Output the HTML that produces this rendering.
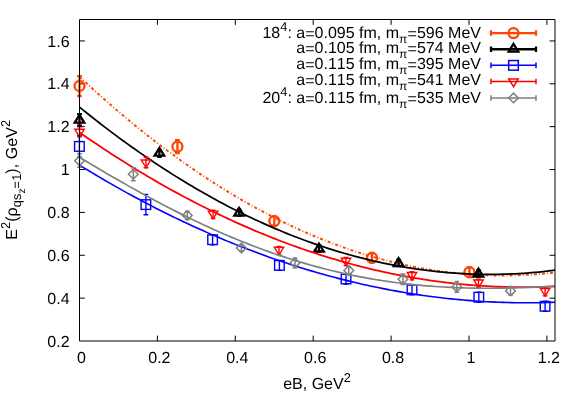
<!DOCTYPE html>
<html><head><meta charset="utf-8"><title>plot</title>
<style>html,body{margin:0;padding:0;background:#fff}svg{display:block;will-change:transform}text{font-kerning:none;text-rendering:geometricPrecision}</style>
</head><body>
<svg width="584" height="409" viewBox="0 0 584 409" font-family="'Liberation Sans', Arial, Helvetica, sans-serif" font-size="16" fill="#000">
<rect width="584" height="409" fill="#fff"/>
<defs><clipPath id="c"><rect x="79.5" y="19.5" width="475.5" height="321.5"/></clipPath></defs>
<path d="M157.40 341.0v-5.4M157.40 19.5v5.4M235.30 341.0v-5.4M235.30 19.5v5.4M313.20 341.0v-5.4M313.20 19.5v5.4M391.10 341.0v-5.4M391.10 19.5v5.4M469.00 341.0v-5.4M469.00 19.5v5.4M546.90 341.0v-5.4M546.90 19.5v5.4M79.5 298.13h5.4M555.0 298.13h-5.4M79.5 255.27h5.4M555.0 255.27h-5.4M79.5 212.40h5.4M555.0 212.40h-5.4M79.5 169.54h5.4M555.0 169.54h-5.4M79.5 126.67h5.4M555.0 126.67h-5.4M79.5 83.80h5.4M555.0 83.80h-5.4M79.5 40.94h5.4M555.0 40.94h-5.4" stroke="#000" stroke-width="1" fill="none"/>
<path d="M79.50 76.20V96.20M77.10 76.20h4.80M77.10 96.20h4.80" stroke="#ff4500" stroke-width="2.3" fill="none"/>
<circle cx="79.50" cy="86.00" r="5.00" stroke="#ff4500" stroke-width="2.3" fill="none"/>
<path d="M177.40 140.20V153.20M175.00 140.20h4.80M175.00 153.20h4.80" stroke="#ff4500" stroke-width="2.3" fill="none"/>
<circle cx="177.40" cy="146.70" r="5.00" stroke="#ff4500" stroke-width="2.3" fill="none"/>
<path d="M274.30 216.30V225.90M271.90 216.30h4.80M271.90 225.90h4.80" stroke="#ff4500" stroke-width="2.3" fill="none"/>
<circle cx="274.30" cy="221.10" r="5.00" stroke="#ff4500" stroke-width="2.3" fill="none"/>
<path d="M372.00 253.00V262.60M369.60 253.00h4.80M369.60 262.60h4.80" stroke="#ff4500" stroke-width="2.3" fill="none"/>
<circle cx="372.00" cy="257.80" r="5.00" stroke="#ff4500" stroke-width="2.3" fill="none"/>
<path d="M469.40 267.40V277.00M467.00 267.40h4.80M467.00 277.00h4.80" stroke="#ff4500" stroke-width="2.3" fill="none"/>
<circle cx="469.40" cy="272.20" r="5.00" stroke="#ff4500" stroke-width="2.3" fill="none"/>
<path d="M79.50 76.69 L83.50 80.43 L87.49 84.13 L91.49 87.79 L95.48 91.42 L99.48 95.02 L103.47 98.58 L107.47 102.10 L111.47 105.59 L115.46 109.04 L119.46 112.46 L123.45 115.84 L127.45 119.19 L131.45 122.50 L135.44 125.78 L139.44 129.02 L143.43 132.22 L147.43 135.39 L151.42 138.53 L155.42 141.63 L159.42 144.69 L163.41 147.72 L167.41 150.71 L171.40 153.67 L175.40 156.59 L179.39 159.47 L183.39 162.32 L187.39 165.14 L191.38 167.92 L195.38 170.66 L199.37 173.37 L203.37 176.04 L207.37 178.68 L211.36 181.29 L215.36 183.85 L219.35 186.38 L223.35 188.88 L227.34 191.34 L231.34 193.77 L235.34 196.16 L239.33 198.51 L243.33 200.83 L247.32 203.11 L251.32 205.36 L255.32 207.57 L259.31 209.75 L263.31 211.89 L267.30 214.00 L271.30 216.07 L275.29 218.10 L279.29 220.10 L283.29 222.07 L287.28 224.00 L291.28 225.89 L295.27 227.75 L299.27 229.57 L303.26 231.36 L307.26 233.11 L311.26 234.82 L315.25 236.50 L319.25 238.15 L323.24 239.76 L327.24 241.33 L331.24 242.87 L335.23 244.38 L339.23 245.84 L343.22 247.28 L347.22 248.67 L351.21 250.04 L355.21 251.36 L359.21 252.65 L363.20 253.91 L367.20 255.13 L371.19 256.31 L375.19 257.46 L379.18 258.58 L383.18 259.65 L387.18 260.70 L391.17 261.70 L395.17 262.68 L399.16 263.61 L403.16 264.51 L407.16 265.38 L411.15 266.21 L415.15 267.00 L419.14 267.76 L423.14 268.49 L427.13 269.17 L431.13 269.83 L435.13 270.44 L439.12 271.03 L443.12 271.57 L447.11 272.08 L451.11 272.56 L455.11 273.00 L459.10 273.40 L463.10 273.77 L467.09 274.11 L471.09 274.40 L475.08 274.67 L479.08 274.89 L483.08 275.09 L487.07 275.24 L491.07 275.36 L495.06 275.45 L499.06 275.50 L503.05 275.51 L507.05 275.49 L511.05 275.44 L515.04 275.35 L519.04 275.22 L523.03 275.06 L527.03 274.86 L531.03 274.62 L535.02 274.36 L539.02 274.05 L543.01 273.71 L547.01 273.34 L551.00 272.93 L555.00 272.48" stroke="#ff4500" stroke-width="1.9" fill="none" stroke-dasharray="3.0 2.1 0.9 2.1" clip-path="url(#c)"/>
<path d="M79.50 114.20V126.20M77.10 114.20h4.80M77.10 126.20h4.80" stroke="#000000" stroke-width="2.3" fill="none"/>
<path d="M79.50 114.82l-4.80 7.78h9.60z" stroke="#000000" stroke-width="2.3" fill="none"/>
<path d="M159.40 150.20V156.90M157.00 150.20h4.80M157.00 156.90h4.80" stroke="#000000" stroke-width="2.3" fill="none"/>
<path d="M159.40 147.82l-4.80 7.78h9.60z" stroke="#000000" stroke-width="2.3" fill="none"/>
<path d="M239.10 209.60V215.70M236.70 209.60h4.80M236.70 215.70h4.80" stroke="#000000" stroke-width="2.3" fill="none"/>
<path d="M239.10 207.82l-4.80 7.78h9.60z" stroke="#000000" stroke-width="2.3" fill="none"/>
<path d="M319.00 245.50V251.60M316.60 245.50h4.80M316.60 251.60h4.80" stroke="#000000" stroke-width="2.3" fill="none"/>
<path d="M319.00 243.72l-4.80 7.78h9.60z" stroke="#000000" stroke-width="2.3" fill="none"/>
<path d="M398.60 260.00V266.10M396.20 260.00h4.80M396.20 266.10h4.80" stroke="#000000" stroke-width="2.3" fill="none"/>
<path d="M398.60 258.22l-4.80 7.78h9.60z" stroke="#000000" stroke-width="2.3" fill="none"/>
<path d="M478.50 270.50V276.60M476.10 270.50h4.80M476.10 276.60h4.80" stroke="#000000" stroke-width="2.3" fill="none"/>
<path d="M478.50 268.72l-4.80 7.78h9.60z" stroke="#000000" stroke-width="2.3" fill="none"/>
<path d="M79.50 107.10 L83.50 110.34 L87.49 113.55 L91.49 116.72 L95.48 119.87 L99.48 122.98 L103.47 126.07 L107.47 129.12 L111.47 132.14 L115.46 135.12 L119.46 138.08 L123.45 141.00 L127.45 143.90 L131.45 146.76 L135.44 149.58 L139.44 152.38 L143.43 155.15 L147.43 157.88 L151.42 160.58 L155.42 163.25 L159.42 165.89 L163.41 168.50 L167.41 171.07 L171.40 173.62 L175.40 176.13 L179.39 178.61 L183.39 181.06 L187.39 183.48 L191.38 185.86 L195.38 188.21 L199.37 190.54 L203.37 192.83 L207.37 195.08 L211.36 197.31 L215.36 199.51 L219.35 201.67 L223.35 203.80 L227.34 205.90 L231.34 207.97 L235.34 210.01 L239.33 212.01 L243.33 213.98 L247.32 215.92 L251.32 217.83 L255.32 219.71 L259.31 221.56 L263.31 223.37 L267.30 225.16 L271.30 226.91 L275.29 228.63 L279.29 230.31 L283.29 231.97 L287.28 233.59 L291.28 235.19 L295.27 236.75 L299.27 238.28 L303.26 239.77 L307.26 241.24 L311.26 242.67 L315.25 244.08 L319.25 245.45 L323.24 246.79 L327.24 248.09 L331.24 249.37 L335.23 250.61 L339.23 251.83 L343.22 253.01 L347.22 254.15 L351.21 255.27 L355.21 256.36 L359.21 257.41 L363.20 258.43 L367.20 259.42 L371.19 260.38 L375.19 261.31 L379.18 262.20 L383.18 263.07 L387.18 263.90 L391.17 264.70 L395.17 265.47 L399.16 266.21 L403.16 266.91 L407.16 267.58 L411.15 268.23 L415.15 268.84 L419.14 269.41 L423.14 269.96 L427.13 270.47 L431.13 270.96 L435.13 271.41 L439.12 271.83 L443.12 272.22 L447.11 272.57 L451.11 272.90 L455.11 273.19 L459.10 273.45 L463.10 273.68 L467.09 273.88 L471.09 274.05 L475.08 274.18 L479.08 274.28 L483.08 274.35 L487.07 274.39 L491.07 274.40 L495.06 274.38 L499.06 274.32 L503.05 274.23 L507.05 274.11 L511.05 273.96 L515.04 273.78 L519.04 273.57 L523.03 273.32 L527.03 273.04 L531.03 272.73 L535.02 272.39 L539.02 272.02 L543.01 271.62 L547.01 271.18 L551.00 270.71 L555.00 270.21" stroke="#000000" stroke-width="1.75" fill="none" clip-path="url(#c)"/>
<path d="M79.40 135.60V157.20M77.00 135.60h4.80M77.00 157.20h4.80" stroke="#0000ff" stroke-width="1.4" fill="none"/>
<rect x="74.60" y="141.60" width="9.60" height="9.60" stroke="#0000ff" stroke-width="1.4" fill="none"/>
<path d="M145.90 194.40V214.80M143.50 194.40h4.80M143.50 214.80h4.80" stroke="#0000ff" stroke-width="1.4" fill="none"/>
<rect x="141.10" y="199.80" width="9.60" height="9.60" stroke="#0000ff" stroke-width="1.4" fill="none"/>
<path d="M212.60 234.70V244.70M210.20 234.70h4.80M210.20 244.70h4.80" stroke="#0000ff" stroke-width="1.4" fill="none"/>
<rect x="207.80" y="234.90" width="9.60" height="9.60" stroke="#0000ff" stroke-width="1.4" fill="none"/>
<path d="M279.40 260.40V270.40M277.00 260.40h4.80M277.00 270.40h4.80" stroke="#0000ff" stroke-width="1.4" fill="none"/>
<rect x="274.60" y="260.60" width="9.60" height="9.60" stroke="#0000ff" stroke-width="1.4" fill="none"/>
<path d="M346.00 274.00V284.00M343.60 274.00h4.80M343.60 284.00h4.80" stroke="#0000ff" stroke-width="1.4" fill="none"/>
<rect x="341.20" y="274.20" width="9.60" height="9.60" stroke="#0000ff" stroke-width="1.4" fill="none"/>
<path d="M412.00 284.80V294.80M409.60 284.80h4.80M409.60 294.80h4.80" stroke="#0000ff" stroke-width="1.4" fill="none"/>
<rect x="407.20" y="285.00" width="9.60" height="9.60" stroke="#0000ff" stroke-width="1.4" fill="none"/>
<path d="M478.80 292.20V302.20M476.40 292.20h4.80M476.40 302.20h4.80" stroke="#0000ff" stroke-width="1.4" fill="none"/>
<rect x="474.00" y="292.40" width="9.60" height="9.60" stroke="#0000ff" stroke-width="1.4" fill="none"/>
<path d="M545.10 301.30V311.30M542.70 301.30h4.80M542.70 311.30h4.80" stroke="#0000ff" stroke-width="1.4" fill="none"/>
<rect x="540.30" y="301.50" width="9.60" height="9.60" stroke="#0000ff" stroke-width="1.4" fill="none"/>
<path d="M79.50 165.14 L83.50 167.59 L87.49 170.02 L91.49 172.42 L95.48 174.80 L99.48 177.17 L103.47 179.51 L107.47 181.82 L111.47 184.12 L115.46 186.39 L119.46 188.64 L123.45 190.87 L127.45 193.08 L131.45 195.27 L135.44 197.43 L139.44 199.57 L143.43 201.69 L147.43 203.79 L151.42 205.87 L155.42 207.92 L159.42 209.95 L163.41 211.96 L167.41 213.95 L171.40 215.91 L175.40 217.86 L179.39 219.78 L183.39 221.68 L187.39 223.56 L191.38 225.41 L195.38 227.25 L199.37 229.06 L203.37 230.85 L207.37 232.62 L211.36 234.36 L215.36 236.09 L219.35 237.79 L223.35 239.47 L227.34 241.13 L231.34 242.76 L235.34 244.38 L239.33 245.97 L243.33 247.54 L247.32 249.09 L251.32 250.61 L255.32 252.12 L259.31 253.60 L263.31 255.06 L267.30 256.50 L271.30 257.91 L275.29 259.31 L279.29 260.68 L283.29 262.03 L287.28 263.36 L291.28 264.66 L295.27 265.95 L299.27 267.21 L303.26 268.45 L307.26 269.67 L311.26 270.86 L315.25 272.04 L319.25 273.19 L323.24 274.32 L327.24 275.43 L331.24 276.51 L335.23 277.58 L339.23 278.62 L343.22 279.64 L347.22 280.64 L351.21 281.61 L355.21 282.57 L359.21 283.50 L363.20 284.41 L367.20 285.30 L371.19 286.16 L375.19 287.01 L379.18 287.83 L383.18 288.63 L387.18 289.41 L391.17 290.17 L395.17 290.90 L399.16 291.61 L403.16 292.30 L407.16 292.97 L411.15 293.62 L415.15 294.24 L419.14 294.84 L423.14 295.42 L427.13 295.98 L431.13 296.52 L435.13 297.03 L439.12 297.52 L443.12 298.00 L447.11 298.44 L451.11 298.87 L455.11 299.27 L459.10 299.66 L463.10 300.02 L467.09 300.36 L471.09 300.67 L475.08 300.97 L479.08 301.24 L483.08 301.49 L487.07 301.72 L491.07 301.92 L495.06 302.11 L499.06 302.27 L503.05 302.41 L507.05 302.53 L511.05 302.63 L515.04 302.70 L519.04 302.75 L523.03 302.78 L527.03 302.79 L531.03 302.78 L535.02 302.74 L539.02 302.69 L543.01 302.61 L547.01 302.51 L551.00 302.38 L555.00 302.24" stroke="#0000ff" stroke-width="1.6" fill="none" clip-path="url(#c)"/>
<path d="M79.50 124.60V136.80M77.10 124.60h4.80M77.10 136.80h4.80" stroke="#ff0000" stroke-width="1.4" fill="none"/>
<path d="M79.50 136.86l-4.70 -7.61h9.40z" stroke="#ff0000" stroke-width="1.4" fill="none"/>
<path d="M146.00 157.20V167.80M143.60 157.20h4.80M143.60 167.80h4.80" stroke="#ff0000" stroke-width="1.4" fill="none"/>
<path d="M146.00 167.66l-4.70 -7.61h9.40z" stroke="#ff0000" stroke-width="1.4" fill="none"/>
<path d="M213.10 210.30V218.50M210.70 210.30h4.80M210.70 218.50h4.80" stroke="#ff0000" stroke-width="1.4" fill="none"/>
<path d="M213.10 218.76l-4.70 -7.61h9.40z" stroke="#ff0000" stroke-width="1.4" fill="none"/>
<path d="M279.00 246.40V254.60M276.60 246.40h4.80M276.60 254.60h4.80" stroke="#ff0000" stroke-width="1.4" fill="none"/>
<path d="M279.00 254.86l-4.70 -7.61h9.40z" stroke="#ff0000" stroke-width="1.4" fill="none"/>
<path d="M346.00 257.40V265.60M343.60 257.40h4.80M343.60 265.60h4.80" stroke="#ff0000" stroke-width="1.4" fill="none"/>
<path d="M346.00 265.86l-4.70 -7.61h9.40z" stroke="#ff0000" stroke-width="1.4" fill="none"/>
<path d="M412.00 271.70V279.90M409.60 271.70h4.80M409.60 279.90h4.80" stroke="#ff0000" stroke-width="1.4" fill="none"/>
<path d="M412.00 280.16l-4.70 -7.61h9.40z" stroke="#ff0000" stroke-width="1.4" fill="none"/>
<path d="M478.50 279.10V287.30M476.10 279.10h4.80M476.10 287.30h4.80" stroke="#ff0000" stroke-width="1.4" fill="none"/>
<path d="M478.50 287.56l-4.70 -7.61h9.40z" stroke="#ff0000" stroke-width="1.4" fill="none"/>
<path d="M545.10 287.70V295.90M542.70 287.70h4.80M542.70 295.90h4.80" stroke="#ff0000" stroke-width="1.4" fill="none"/>
<path d="M545.10 296.16l-4.70 -7.61h9.40z" stroke="#ff0000" stroke-width="1.4" fill="none"/>
<path d="M79.50 132.39 L83.50 135.17 L87.49 137.92 L91.49 140.65 L95.48 143.35 L99.48 146.03 L103.47 148.68 L107.47 151.31 L111.47 153.91 L115.46 156.49 L119.46 159.04 L123.45 161.57 L127.45 164.07 L131.45 166.54 L135.44 169.00 L139.44 171.42 L143.43 173.82 L147.43 176.20 L151.42 178.55 L155.42 180.87 L159.42 183.17 L163.41 185.45 L167.41 187.70 L171.40 189.92 L175.40 192.12 L179.39 194.30 L183.39 196.45 L187.39 198.57 L191.38 200.67 L195.38 202.74 L199.37 204.79 L203.37 206.82 L207.37 208.82 L211.36 210.79 L215.36 212.74 L219.35 214.66 L223.35 216.56 L227.34 218.43 L231.34 220.28 L235.34 222.10 L239.33 223.90 L243.33 225.67 L247.32 227.42 L251.32 229.14 L255.32 230.83 L259.31 232.50 L263.31 234.15 L267.30 235.77 L271.30 237.37 L275.29 238.94 L279.29 240.48 L283.29 242.00 L287.28 243.50 L291.28 244.97 L295.27 246.41 L299.27 247.83 L303.26 249.23 L307.26 250.60 L311.26 251.94 L315.25 253.26 L319.25 254.55 L323.24 255.82 L327.24 257.07 L331.24 258.29 L335.23 259.48 L339.23 260.65 L343.22 261.79 L347.22 262.91 L351.21 264.00 L355.21 265.07 L359.21 266.11 L363.20 267.13 L367.20 268.12 L371.19 269.09 L375.19 270.03 L379.18 270.95 L383.18 271.84 L387.18 272.70 L391.17 273.54 L395.17 274.36 L399.16 275.15 L403.16 275.92 L407.16 276.66 L411.15 277.37 L415.15 278.06 L419.14 278.73 L423.14 279.37 L427.13 279.98 L431.13 280.57 L435.13 281.14 L439.12 281.67 L443.12 282.19 L447.11 282.68 L451.11 283.14 L455.11 283.58 L459.10 283.99 L463.10 284.38 L467.09 284.74 L471.09 285.08 L475.08 285.40 L479.08 285.68 L483.08 285.95 L487.07 286.18 L491.07 286.39 L495.06 286.58 L499.06 286.74 L503.05 286.88 L507.05 286.99 L511.05 287.08 L515.04 287.14 L519.04 287.18 L523.03 287.19 L527.03 287.17 L531.03 287.13 L535.02 287.07 L539.02 286.98 L543.01 286.86 L547.01 286.72 L551.00 286.56 L555.00 286.37" stroke="#ff0000" stroke-width="1.8" fill="none" clip-path="url(#c)"/>
<path d="M79.50 153.80V167.30M77.10 153.80h4.80M77.10 167.30h4.80" stroke="#808080" stroke-width="1.5" fill="none"/>
<path d="M79.50 155.95l-4.85 4.85l4.85 4.85l4.85 -4.85z" stroke="#808080" stroke-width="1.5" fill="none"/>
<path d="M133.30 167.80V180.70M130.90 167.80h4.80M130.90 180.70h4.80" stroke="#808080" stroke-width="1.5" fill="none"/>
<path d="M133.30 169.35l-4.85 4.85l4.85 4.85l4.85 -4.85z" stroke="#808080" stroke-width="1.5" fill="none"/>
<path d="M187.30 211.40V219.40M184.90 211.40h4.80M184.90 219.40h4.80" stroke="#808080" stroke-width="1.5" fill="none"/>
<path d="M187.30 210.55l-4.85 4.85l4.85 4.85l4.85 -4.85z" stroke="#808080" stroke-width="1.5" fill="none"/>
<path d="M241.40 245.00V251.00M239.00 245.00h4.80M239.00 251.00h4.80" stroke="#808080" stroke-width="1.5" fill="none"/>
<path d="M241.40 243.15l-4.85 4.85l4.85 4.85l4.85 -4.85z" stroke="#808080" stroke-width="1.5" fill="none"/>
<path d="M295.00 258.10V267.70M292.60 258.10h4.80M292.60 267.70h4.80" stroke="#808080" stroke-width="1.5" fill="none"/>
<path d="M295.00 258.05l-4.85 4.85l4.85 4.85l4.85 -4.85z" stroke="#808080" stroke-width="1.5" fill="none"/>
<path d="M348.80 266.50V274.50M346.40 266.50h4.80M346.40 274.50h4.80" stroke="#808080" stroke-width="1.5" fill="none"/>
<path d="M348.80 265.65l-4.85 4.85l4.85 4.85l4.85 -4.85z" stroke="#808080" stroke-width="1.5" fill="none"/>
<path d="M402.90 273.90V284.50M400.50 273.90h4.80M400.50 284.50h4.80" stroke="#808080" stroke-width="1.5" fill="none"/>
<path d="M402.90 274.35l-4.85 4.85l4.85 4.85l4.85 -4.85z" stroke="#808080" stroke-width="1.5" fill="none"/>
<path d="M456.80 281.60V292.20M454.40 281.60h4.80M454.40 292.20h4.80" stroke="#808080" stroke-width="1.5" fill="none"/>
<path d="M456.80 282.05l-4.85 4.85l4.85 4.85l4.85 -4.85z" stroke="#808080" stroke-width="1.5" fill="none"/>
<path d="M510.50 286.90V294.90M508.10 286.90h4.80M508.10 294.90h4.80" stroke="#808080" stroke-width="1.5" fill="none"/>
<path d="M510.50 286.05l-4.85 4.85l4.85 4.85l4.85 -4.85z" stroke="#808080" stroke-width="1.5" fill="none"/>
<path d="M79.50 157.27 L83.50 159.68 L87.49 162.08 L91.49 164.47 L95.48 166.84 L99.48 169.21 L103.47 171.56 L107.47 173.90 L111.47 176.22 L115.46 178.54 L119.46 180.83 L123.45 183.11 L127.45 185.38 L131.45 187.62 L135.44 189.86 L139.44 192.07 L143.43 194.26 L147.43 196.44 L151.42 198.60 L155.42 200.74 L159.42 202.86 L163.41 204.95 L167.41 207.03 L171.40 209.09 L175.40 211.12 L179.39 213.13 L183.39 215.12 L187.39 217.09 L191.38 219.03 L195.38 220.96 L199.37 222.85 L203.37 224.72 L207.37 226.57 L211.36 228.39 L215.36 230.19 L219.35 231.96 L223.35 233.71 L227.34 235.43 L231.34 237.13 L235.34 238.79 L239.33 240.44 L243.33 242.05 L247.32 243.64 L251.32 245.20 L255.32 246.73 L259.31 248.24 L263.31 249.71 L267.30 251.16 L271.30 252.58 L275.29 253.98 L279.29 255.34 L283.29 256.68 L287.28 257.99 L291.28 259.26 L295.27 260.52 L299.27 261.74 L303.26 262.93 L307.26 264.09 L311.26 265.23 L315.25 266.34 L319.25 267.41 L323.24 268.46 L327.24 269.48 L331.24 270.47 L335.23 271.43 L339.23 272.37 L343.22 273.27 L347.22 274.15 L351.21 275.00 L355.21 275.82 L359.21 276.61 L363.20 277.37 L367.20 278.10 L371.19 278.81 L375.19 279.49 L379.18 280.14 L383.18 280.77 L387.18 281.36 L391.17 281.93 L395.17 282.48 L399.16 282.99 L403.16 283.49 L407.16 283.95 L411.15 284.39 L415.15 284.80 L419.14 285.19 L423.14 285.55 L427.13 285.89 L431.13 286.21 L435.13 286.50 L439.12 286.76 L443.12 287.00 L447.11 287.22 L451.11 287.42 L455.11 287.60 L459.10 287.75 L463.10 287.88 L467.09 287.99 L471.09 288.08 L475.08 288.15 L479.08 288.20 L483.08 288.23 L487.07 288.25 L491.07 288.24 L495.06 288.22 L499.06 288.18 L503.05 288.12 L507.05 288.04 L511.05 287.95 L515.04 287.85 L519.04 287.73 L523.03 287.60 L527.03 287.45 L531.03 287.29 L535.02 287.12 L539.02 286.93 L543.01 286.74 L547.01 286.54 L551.00 286.32 L555.00 286.10" stroke="#808080" stroke-width="1.7" fill="none" clip-path="url(#c)"/>
<path d="M79.5 19.5H555.0V341.0H79.5Z" stroke="#000" stroke-width="1" fill="none"/>
<text x="81.50" y="362.6" text-anchor="middle">0</text>
<text x="159.40" y="362.6" text-anchor="middle">0.2</text>
<text x="237.30" y="362.6" text-anchor="middle">0.4</text>
<text x="315.20" y="362.6" text-anchor="middle">0.6</text>
<text x="393.10" y="362.6" text-anchor="middle">0.8</text>
<text x="471.00" y="362.6" text-anchor="middle">1</text>
<text x="548.90" y="362.6" text-anchor="middle">1.2</text>
<text x="69.6" y="346.60" text-anchor="end">0.2</text>
<text x="69.6" y="303.73" text-anchor="end">0.4</text>
<text x="69.6" y="260.87" text-anchor="end">0.6</text>
<text x="69.6" y="218.00" text-anchor="end">0.8</text>
<text x="69.6" y="175.14" text-anchor="end">1</text>
<text x="69.6" y="132.27" text-anchor="end">1.2</text>
<text x="69.6" y="89.40" text-anchor="end">1.4</text>
<text x="69.6" y="46.54" text-anchor="end">1.6</text>
<text x="317" y="389" text-anchor="middle">eB, GeV<tspan font-size="12.8" dy="-7.5">2</tspan></text>
<g transform="translate(17.3 239.7) rotate(-90)"><text x="0" y="0" letter-spacing="0.06">E<tspan font-size="12.8" dy="-7.8">2</tspan><tspan dy="7.8">(ρ</tspan><tspan font-size="12.8" dy="3.3">qs</tspan><tspan font-size="10.24" dy="4">z</tspan><tspan font-size="12.8" dy="-4">=1</tspan><tspan dy="-3.3">), GeV</tspan><tspan font-size="12.8" dy="-7.8">2</tspan></text></g>
<text x="481.0" y="37.60" text-anchor="end">18<tspan font-size="12.8" dy="-6.3">4</tspan><tspan dy="6.3">: </tspan>a<tspan dy="1.4">=</tspan><tspan dy="-1.4">0.095 fm, m</tspan><tspan font-size="12" dy="5.2">π</tspan><tspan dy="-3.8" dx="0.3">=</tspan><tspan dy="-1.4">596 MeV</tspan></text>
<path d="M491 33.05H536M491 30.249999999999996v5.6M536 30.249999999999996v5.6" stroke="#ff4500" stroke-width="2.3" fill="none"/>
<circle cx="513.50" cy="33.05" r="5.00" stroke="#ff4500" stroke-width="2.3" fill="none"/>
<text x="481.0" y="52.90" text-anchor="end">a<tspan dy="1.4">=</tspan><tspan dy="-1.4">0.105 fm, m</tspan><tspan font-size="12" dy="5.2">π</tspan><tspan dy="-3.8" dx="0.3">=</tspan><tspan dy="-1.4">574 MeV</tspan></text>
<path d="M491 49.25H536M491 46.45v5.6M536 46.45v5.6" stroke="#000000" stroke-width="2.3" fill="none"/>
<path d="M513.50 43.87l-4.80 7.78h9.60z" stroke="#000000" stroke-width="2.3" fill="none"/>
<text x="481.0" y="68.80" text-anchor="end">a<tspan dy="1.4">=</tspan><tspan dy="-1.4">0.115 fm, m</tspan><tspan font-size="12" dy="5.2">π</tspan><tspan dy="-3.8" dx="0.3">=</tspan><tspan dy="-1.4">395 MeV</tspan></text>
<path d="M491 65.35H536M491 62.55v5.6M536 62.55v5.6" stroke="#0000ff" stroke-width="1.5" fill="none"/>
<rect x="508.70" y="60.55" width="9.60" height="9.60" stroke="#0000ff" stroke-width="1.5" fill="none"/>
<text x="481.0" y="84.80" text-anchor="end">a<tspan dy="1.4">=</tspan><tspan dy="-1.4">0.115 fm, m</tspan><tspan font-size="12" dy="5.2">π</tspan><tspan dy="-3.8" dx="0.3">=</tspan><tspan dy="-1.4">541 MeV</tspan></text>
<path d="M491 81.45H536M491 78.65v5.6M536 78.65v5.6" stroke="#ff0000" stroke-width="1.5" fill="none"/>
<path d="M513.50 86.71l-4.70 -7.61h9.40z" stroke="#ff0000" stroke-width="1.5" fill="none"/>
<text x="481.0" y="102.70" text-anchor="end">20<tspan font-size="12.8" dy="-6.3">4</tspan><tspan dy="6.3">: </tspan>a<tspan dy="1.4">=</tspan><tspan dy="-1.4">0.115 fm, m</tspan><tspan font-size="12" dy="5.2">π</tspan><tspan dy="-3.8" dx="0.3">=</tspan><tspan dy="-1.4">535 MeV</tspan></text>
<path d="M491 97.95H536M491 95.15v5.6M536 95.15v5.6" stroke="#808080" stroke-width="1.5" fill="none"/>
<path d="M513.50 93.10l-4.85 4.85l4.85 4.85l4.85 -4.85z" stroke="#808080" stroke-width="1.5" fill="none"/>
</svg>
</body></html>
